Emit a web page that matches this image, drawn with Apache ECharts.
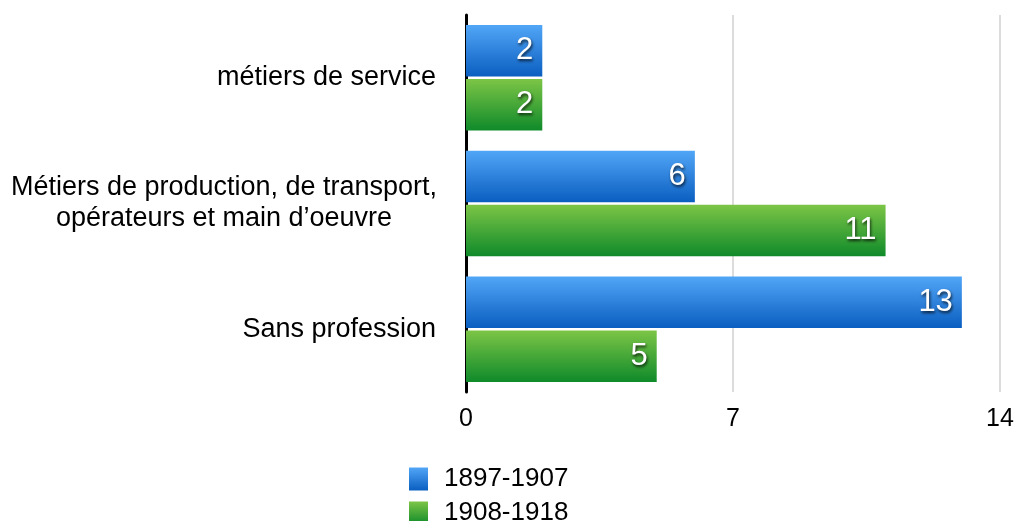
<!DOCTYPE html>
<html>
<head>
<meta charset="utf-8">
<script src="https://cdn.jsdelivr.net/npm/echarts@6/dist/echarts.min.js"></script>
<style>
  html, body { margin: 0; padding: 0; background: #fff; }
  #chart { width: 1019px; height: 521px; }
</style>
</head>
<body>
<div id="chart"></div>
<script>
    let categories = ['métiers de service', 'Métiers de production, de transport,\nopérateurs et main d’oeuvre', 'Sans profession'];
    let seriesNames = ['1897-1907', '1908-1918'];
    let valuesA = [2, 6, 13];
    let valuesB = [2, 11, 5];

    let grad = function(top, bottom){
        return new echarts.graphic.LinearGradient(0, 0, 0, 1, [
            { offset: 0, color: top },
            { offset: 1, color: bottom }
        ]);
    };

    // two-line label: lines centred on each other, block still ends at the axis
    let catData = categories.map(function(name){
        if (name.indexOf('\n') < 0) return name;
        return { value: name, textStyle: { align: 'center', padding: [0, 424, 0, 0] } };
    });

    let barLabel = {
        show: true,
        position: 'insideRight',
        distance: 9,
        color: '#fff',
        fontSize: 31,
        fontFamily: 'Liberation Sans, Arial, sans-serif',
        textShadowColor: 'rgba(0,0,0,0.75)',
        textShadowBlur: 3,
        textShadowOffsetX: 1,
        textShadowOffsetY: 2
    };

    let chart = echarts.init(document.getElementById('chart'));
    chart.setOption({
        animation: false,
        textStyle: { fontFamily: 'Liberation Sans, Arial, sans-serif' },
        grid: { left: 466, right: 19, top: 15, bottom: 129 },
        legend: {
            orient: 'vertical',
            left: 409,
            top: 466,
            height: 90,      // let it run past the bottom edge like the original
            padding: 0,
            itemWidth: 19,
            itemHeight: 23,
            itemGap: 8,
            icon: 'rect',
            textStyle: { fontSize: 26, color: '#000', padding: [0, 0, 0, 11] },
            data: seriesNames
        },
        xAxis: {
            type: 'value',
            min: 0,
            max: 14,
            interval: 7,
            axisLine: { show: false },
            axisTick: { show: false },
            axisLabel: { fontSize: 25, color: '#000', margin: 15 },
            splitLine: { lineStyle: { color: '#d0d0d0', width: 1.5 } }
        },
        yAxis: {
            type: 'category',
            inverse: true,
            data: catData,
            axisLine: { lineStyle: { color: '#000', width: 3 } },
            axisTick: { show: false },
            axisLabel: { fontSize: 27, color: '#000', margin: 30, lineHeight: 31, align: 'right' }
        },
        series: [
            {
                name: seriesNames[0],
                type: 'bar',
                data: valuesA,
                barCategoryGap: '16%',
                barGap: '5%',
                itemStyle: { color: grad('#52a6f7', '#0a5ec0') },
                label: barLabel
            },
            {
                name: seriesNames[1],
                type: 'bar',
                data: valuesB,
                barCategoryGap: '16%',
                barGap: '5%',
                itemStyle: { color: grad('#7cc546', '#0f8a2a') },
                label: barLabel
            }
        ]
    });
</script>
</body>
</html>
